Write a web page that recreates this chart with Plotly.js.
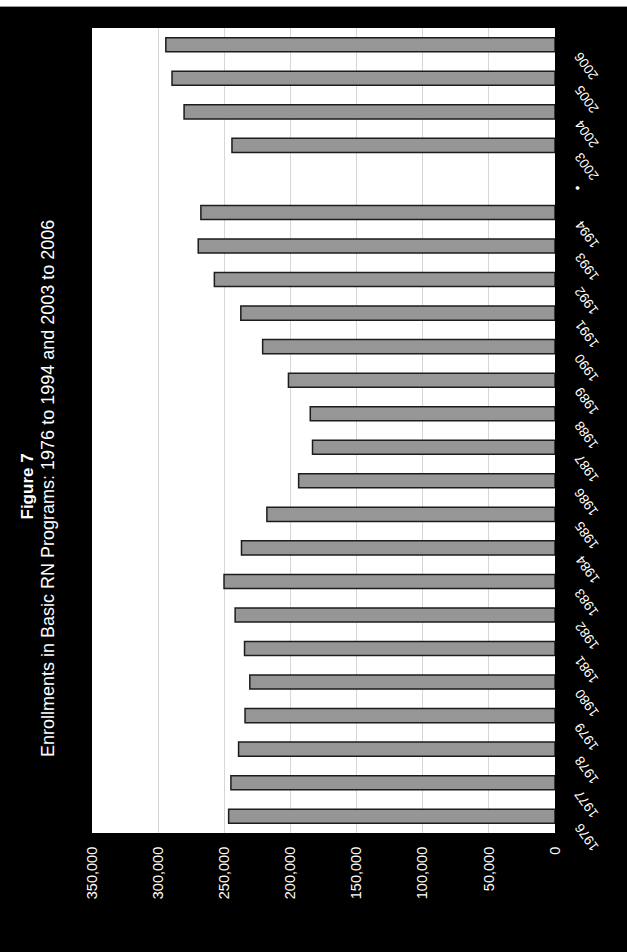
<!DOCTYPE html>
<html>
<head>
<meta charset="utf-8">
<script src="https://cdn.plot.ly/plotly-3.0.1.min.js"></script>
<style>
  html, body { margin: 0; padding: 0; background: #ffffff; }
  #chart { width: 627px; height: 945px; margin-top: 6px; border-top: 1px solid #9a9a9a; }
</style>
</head>
<body>
<div id="chart"></div>
<script>
// Enrollments in basic RN programs, by year (the empty slot separates 1994 from 2003)
const years = ['1976', '1977', '1978', '1979', '1980', '1981', '1982', '1983', '1984', '1985',
               '1986', '1987', '1988', '1989', '1990', '1991', '1992', '1993', '1994',
               '•', '2003', '2004', '2005', '2006'];
const enrollments = [246700, 245000, 239200, 234300, 230700, 234700, 241800, 250200, 237000, 217800,
                     193800, 183300, 185000, 201500, 221000, 237500, 257500, 269700, 267700,
                     null, 244200, 280400, 289500, 294200];
const valueTicks = [0, 50000, 100000, 150000, 200000, 250000, 300000, 350000];

const titleText = 'Figure 7';
const subtitleText = 'Enrollments in Basic RN Programs: 1976 to 1994 and 2003 to 2006';

const W = 627, H = 945;
const M = { l: 92, r: 72, t: 21, b: 119 };
const plotW = W - M.l - M.r, plotH = H - M.t - M.b;
// pixel position on the page -> paper coordinates
const px = x => (x - M.l) / plotW;
const py = y => (H - M.b - y) / plotH;

const font = 'Liberation Sans, Arial, sans-serif';

// Category labels: slanted text whose end sits just right of the axis,
// a little below its bar; the centre is offset along the slant by half the text length.
// On a category axis an annotation's y is the category's serial number.
const catSize = 13.5;
const slantDeg = 54;
const catLabels = years.map((label, i) => {
  const len = label.length > 1 ? 0.556 * catSize * label.length : 0;
  const a = (slantDeg * Math.PI) / 180;
  return {
    text: label,
    xref: 'paper', yref: 'y',
    x: px(578), y: i,
    xanchor: 'center', yanchor: 'middle',
    xshift: (len / 2) * Math.cos(a),
    yshift: -9 - (len / 2) * Math.sin(a),
    textangle: slantDeg - 180,
    showarrow: false,
    font: { family: font, size: catSize, color: '#ffffff' }
  };
});

const trace = {
  type: 'bar',
  orientation: 'h',
  y: years,
  x: enrollments,
  marker: { color: '#969696', line: { color: '#1c1c1c', width: 1.5 } },
  hoverinfo: 'x+y'
};

const layout = {
  width: W,
  height: H,
  margin: M,
  paper_bgcolor: '#000000',
  plot_bgcolor: '#ffffff',
  bargap: 0.58,
  showlegend: false,
  font: { family: font, color: '#ffffff' },
  xaxis: {
    range: [350000, 0],
    tickvals: valueTicks,
    tickformat: ',',
    tickangle: -90,
    tickfont: { family: font, size: 14.5, color: '#ffffff' },
    ticks: 'outside',
    ticklen: 7,
    tickcolor: 'rgba(0,0,0,0)',
    showgrid: true,
    gridcolor: '#d6d6d6',
    gridwidth: 1,
    zeroline: false,
    showline: false,
    fixedrange: true
  },
  yaxis: {
    type: 'category',
    categoryorder: 'array',
    categoryarray: years,
    range: [-0.5, years.length - 0.5],
    side: 'right',
    showticklabels: false,
    ticks: '',
    showgrid: false,
    zeroline: false,
    showline: false,
    fixedrange: true
  },
  annotations: [
    {
      text: '<b>' + titleText + '</b>',
      xref: 'paper', yref: 'paper',
      x: px(27.5), y: py(480),
      xanchor: 'center', yanchor: 'middle',
      textangle: -90,
      showarrow: false,
      font: { family: font, size: 17, color: '#ffffff' }
    },
    {
      text: subtitleText,
      xref: 'paper', yref: 'paper',
      x: px(48), y: py(482),
      xanchor: 'center', yanchor: 'middle',
      textangle: -90,
      showarrow: false,
      font: { family: font, size: 18, color: '#ffffff' }
    }
  ].concat(catLabels)
};

Plotly.newPlot('chart', [trace], layout, { displayModeBar: false, staticPlot: true });
</script>
</body>
</html>
